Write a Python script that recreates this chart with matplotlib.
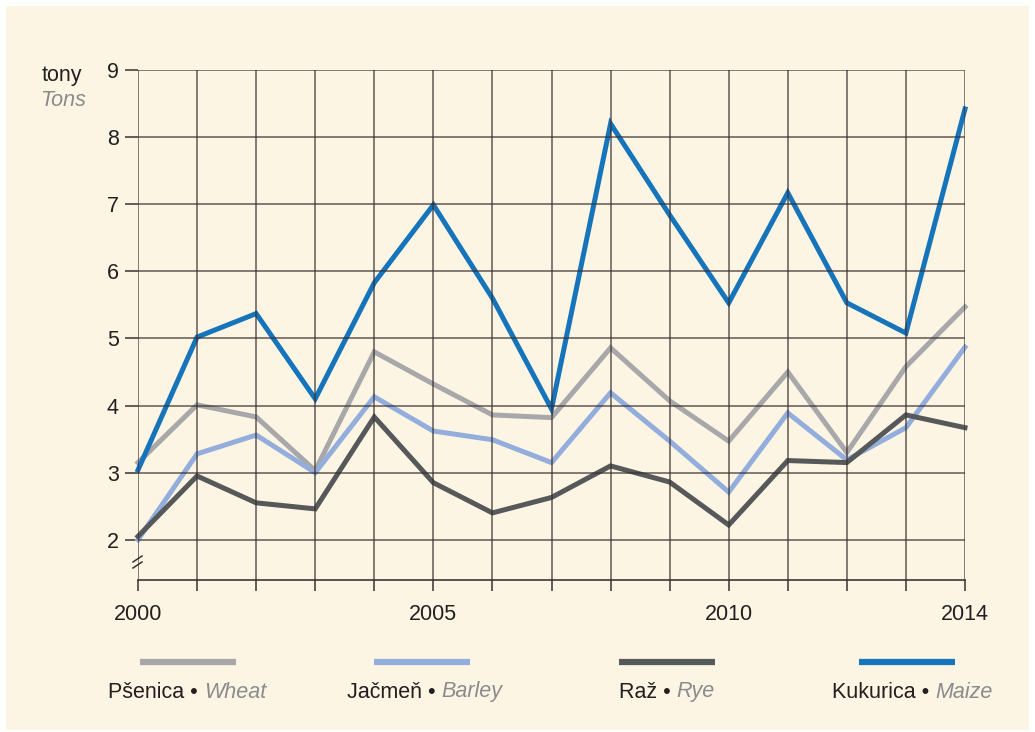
import matplotlib
matplotlib.use("Agg")
import matplotlib.pyplot as plt
from matplotlib.patches import Rectangle
from matplotlib.lines import Line2D
from matplotlib.offsetbox import TextArea, HPacker, AnchoredOffsetbox

years = list(range(2000, 2015))
wheat = [3.15, 4.01, 3.83, 3.03, 4.80, 4.32, 3.86, 3.82, 4.86, 4.07, 3.47, 4.50, 3.30, 4.58, 5.47]
barley = [2.00, 3.28, 3.56, 3.00, 4.13, 3.62, 3.49, 3.15, 4.19, 3.47, 2.71, 3.89, 3.19, 3.67, 4.87]
rye = [2.05, 2.95, 2.55, 2.46, 3.83, 2.85, 2.40, 2.63, 3.10, 2.86, 2.22, 3.18, 3.15, 3.86, 3.67]
maize = [3.04, 5.02, 5.37, 4.10, 5.83, 6.99, 5.60, 3.95, 8.20, 6.84, 5.53, 7.17, 5.53, 5.08, 8.42]
yticks = [2, 3, 4, 5, 6, 7, 8, 9]
xlabels = {2000: "2000", 2005: "2005", 2010: "2010", 2014: "2014"}

series = [
    ("Pšenica", "Wheat", wheat, "#a8a8aa"),
    ("Jačmeň", "Barley", barley, "#93aedd"),
    ("Raž", "Rye", rye, "#57585a"),
    ("Kukurica", "Maize", maize, "#1674bb"),
]

BG = "#fdf5e4"
GRID = "#3a3030"
FS = 15.5
FONT = "Liberation Sans"
W, H = 1035, 732
fig = plt.figure(figsize=(W / 100, H / 100), dpi=100, facecolor="white")
fig.patches.append(Rectangle((6 / W, 2 / H), (1029 - 6) / W, (726 - 2) / H,
                             transform=fig.transFigure, facecolor=BG, edgecolor="none", zorder=-10))

ax = fig.add_axes([138 / W, 1 - 580 / H, (965 - 138) / W, (580 - 70) / H])
ax.set_facecolor("none")
ax.set_xlim(2000, 2014)
ax.set_ylim(1.4, 9)
for s in ax.spines.values():
    s.set_visible(False)

for name, en, vals, col in series:
    ax.plot(years, vals, color=col, lw=3.6, solid_joinstyle="miter", zorder=2, clip_on=False)

# grid on top
for y in yticks:
    ax.axhline(y, color=GRID, lw=1.1, alpha=0.8, zorder=3)
for x in years:
    ax.axvline(x, color=GRID, lw=1.1, alpha=0.8, zorder=3)
ax.axhline(1.4, color=GRID, lw=1.3, alpha=0.9, zorder=3, clip_on=False)

ax.set_yticks(yticks)
ax.set_yticklabels([str(v) for v in yticks], fontsize=FS, color="#231f20", family=FONT)
ax.tick_params(axis="y", length=9.4, width=1.1, color=GRID, pad=4.5)
ax.set_xticks(years)
ax.set_xticklabels([xlabels.get(y, "") for y in years], fontsize=FS, color="#231f20", family=FONT)
ax.tick_params(axis="x", length=8, width=1.1, color=GRID, pad=9)

# axis break marks
for dy in (0, 6):
    fig.add_artist(Line2D([133 / W, 142 / W], [1 - (568 - dy) / H, 1 - (562 - dy) / H],
                          color=GRID, lw=1.1, transform=fig.transFigure))

fig.text(42 / W, 1 - 75 / H, "tony", fontsize=FS, color="#231f20", va="center", family=FONT)
fig.text(40 / W, 1 - 100 / H, "Tons", fontsize=FS, color="#8a8b8d", va="center", style="italic",
         family=FONT)

# legend
lx = [140, 374, 619, 859]
tx = [108, 347, 619, 832]
for (name, en, vals, col), x0, t0 in zip(series, lx, tx):
    fig.add_artist(Line2D([x0 / W, (x0 + 96) / W], [1 - 662 / H, 1 - 662 / H], color=col, lw=4.5,
                          solid_capstyle="butt", transform=fig.transFigure))
    a = TextArea(name + " • ", textprops=dict(fontsize=FS, color="#231f20", family=FONT))
    b = TextArea(en, textprops=dict(fontsize=FS, color="#8a8b8d", style="italic", family=FONT))
    box = HPacker(children=[a, b], pad=0, sep=0, align="baseline")
    ab = AnchoredOffsetbox(loc="center left", child=box, pad=0, borderpad=0, frameon=False,
                           bbox_to_anchor=(t0 / W, 1 - 692 / H), bbox_transform=fig.transFigure)
    fig.add_artist(ab)

fig.savefig("out.png", dpi=100, facecolor="white")
